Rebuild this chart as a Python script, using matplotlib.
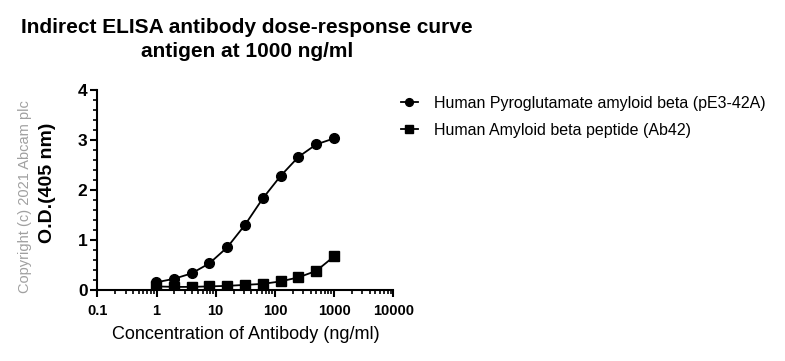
import numpy as np
import matplotlib.pyplot as plt
from matplotlib.ticker import MultipleLocator, LogLocator, NullFormatter, FixedLocator, FixedFormatter

plt.rcParams['font.family'] = ['Liberation Sans', 'DejaVu Sans']

# antibody concentration (ng/ml), 2-fold dilutions from 1000
conc = [1000 / 2 ** k for k in range(10, -1, -1)]
pyro_od = [0.15, 0.22, 0.33, 0.53, 0.85, 1.30, 1.83, 2.28, 2.66, 2.91, 3.03]
ab42_od = [0.07, 0.06, 0.06, 0.07, 0.08, 0.10, 0.12, 0.17, 0.25, 0.38, 0.67]
labels = ['Human Pyroglutamate amyloid beta (pE3-42A)',
          'Human Amyloid beta peptide (Ab42)']
xticks = [0.1, 1, 10, 100, 1000, 10000]
xtick_labels = ['0.1', '1', '10', '100', '1000', '10000']

fig = plt.figure(figsize=(7.85, 3.61), dpi=100)
ax = fig.add_axes([0.124, 0.197, 0.377, 0.554])

ax.plot(conc, pyro_od, color='black', lw=1.3, marker='o', ms=7, label=labels[0])
ax.plot(conc, ab42_od, color='black', lw=1.3, marker='s', ms=6.5, label=labels[1])

ax.set_xscale('log')
ax.set_xlim(0.1, 10000)
ax.set_ylim(0, 4)
ax.xaxis.set_major_locator(FixedLocator(xticks))
ax.xaxis.set_major_formatter(FixedFormatter(xtick_labels))
ax.xaxis.set_minor_locator(LogLocator(base=10, subs=np.arange(2, 10)))
ax.xaxis.set_minor_formatter(NullFormatter())
ax.yaxis.set_major_locator(MultipleLocator(1))
ax.yaxis.set_minor_locator(MultipleLocator(0.2))

for s in ['top', 'right']:
    ax.spines[s].set_visible(False)
for s in ['left', 'bottom']:
    ax.spines[s].set_linewidth(1.5)
ax.tick_params(which='major', length=5, width=1.5, direction='out')
ax.tick_params(which='minor', length=3, width=1.2, direction='out')
ax.tick_params(axis='y', labelsize=12.5, pad=2)
ax.tick_params(axis='x', labelsize=10.5, pad=5)
for t in ax.get_xticklabels() + ax.get_yticklabels():
    t.set_fontweight('bold')

ax.set_xlabel('Concentration of Antibody (ng/ml)', fontsize=13, labelpad=6)
ax.set_ylabel('O.D.(405 nm)', fontsize=14, fontweight='bold', labelpad=8)
ax.yaxis.set_label_coords(-0.14, 0.535)

fig.text(0.315, 0.95, 'Indirect ELISA antibody dose-response curve\nantigen at 1000 ng/ml',
         ha='center', va='top', fontsize=15, fontweight='bold', linespacing=1.35)
fig.text(0.032, 0.455, 'Copyright (c) 2021 Abcam plc', rotation=90, ha='center', va='center',
         fontsize=10.5, color='#a0a0a0')

fig.legend(loc='upper left', bbox_to_anchor=(0.492, 0.775), frameon=False, fontsize=11.5,
           handlelength=1.1, handletextpad=1.0, markerscale=0.8, labelspacing=0.75)

fig.savefig('out.png', dpi=100)
